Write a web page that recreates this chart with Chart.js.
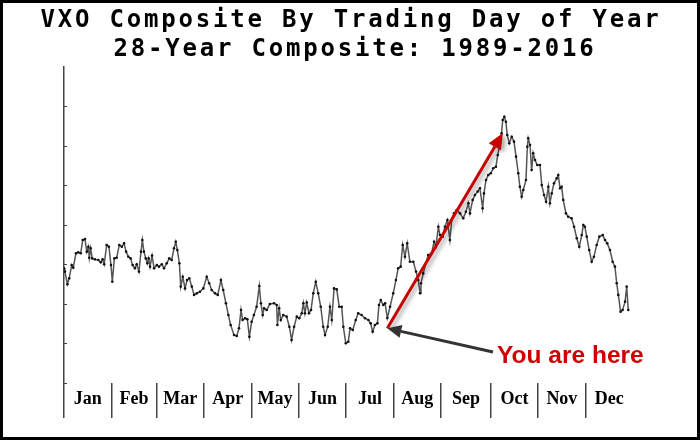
<!DOCTYPE html>
<html><head><meta charset="utf-8">
<script src="https://cdn.jsdelivr.net/npm/chart.js@4.4.1/dist/chart.umd.min.js"></script>
<style>html,body{margin:0;padding:0;background:#fff}#wrap{width:700px;height:440px}</style>
</head><body><div id="wrap"><canvas id="c" width="700" height="440"></canvas></div>
<script>
const titleLines = ["VXO Composite By Trading Day of Year", "28-Year Composite: 1989-2016"];
const monthNames = ["Jan","Feb","Mar","Apr","May","Jun","Jul","Aug","Sep","Oct","Nov","Dec"];
const monthStarts = [0,21,41,62,83,104,125,146,167,189,210,231];
const yearEnd = 252;
const yTicks = [12,14,16,18,20,22,24,26];

const days = [
0.0,0.4,1.5,2.3,3.4,4.1,5.3,6.3,7.4,8.3,9.3,10.1,10.8,11.2,11.8,12.5,13.7,15.2,16.3,17.1,
17.8,18.9,19.9,20.8,21.4,22.3,23.3,24.5,25.6,26.6,27.5,28.5,29.5,30.4,31.4,32.2,33.2,34.1,34.7,35.4,
36.2,36.9,37.5,38.1,39.0,39.9,41.1,42.1,43.3,44.3,45.5,46.6,47.7,48.7,49.5,50.2,51.1,51.7,52.6,53.6,
54.5,55.5,
56.6,57.6,58.8,60.2,61.7,63.2,64.3,65.4,66.9,68.1,69.5,70.5,71.7,72.8,73.8,75.3,76.5,77.5,78.4,79.1,
80.2,81.2,82.1,83.1,84.1,85.3,86.5,87.2,88.0,88.6,89.8,91.2,93.0,94.2,94.5,95.3,96.0,97.1,98.6,99.8,
100.8,101.9,103.1,104.2,105.3,106.0,106.7,107.5,108.5,109.4,110.4,111.5,112.6,113.7,114.8,115.6,116.8,117.8,118.6,119.6,
120.8,121.9,123.0,123.7,124.8,125.9,126.7,
127.9,129.2,130.3,131.8,133.3,134.8,135.8,136.7,137.7,138.8,139.5,140.3,141.4,142.2,143.2,144.4,145.8,147.0,148.0,149.1,
150.0,151.0,152.0,153.2,154.7,155.9,156.9,157.7,158.1,159.1,161.3,162.8,163.9,164.7,165.8,166.5,167.7,168.7,169.8,170.9,
171.7,172.7,173.9,175.4,176.8,178.0,179.1,179.8,181.0,182.0,183.2,184.2,185.4,186.0,186.9,187.9,189.0,190.1,191.3,192.1,
193.1,193.8,194.3,195.0,195.7,196.3,197.2,198.3,199.3,200.2,201.2,201.9,202.7,203.4,204.6,205.2,205.6,206.4,207.1,207.8,
208.6,209.6,210.8,211.6,212.6,213.5,214.5,215.2,216.0,217.0,218.2,218.9,219.7,220.4,221.1,222.3,223.3,224.8,225.9,227.1,
228.2,229.3,230.0,230.7,231.5,232.6,233.7,234.7,235.9,237.1,238.6,239.6,240.6,241.8,243.0,244.0,244.8,245.5,246.5,247.4,
248.5,249.2,249.9
];
const vxo = [
17.81,17.64,17.00,17.30,17.97,17.84,18.57,18.62,18.57,19.24,19.29,18.65,18.90,18.34,18.82,18.31,18.26,18.23,18.11,18.26,
18.01,18.99,18.90,17.97,17.13,18.31,18.34,18.99,18.90,19.07,18.65,18.39,18.31,17.97,17.81,18.01,17.64,18.65,19.24,18.65,
18.31,18.06,18.31,17.89,18.45,17.81,17.97,17.89,18.01,17.81,18.06,18.31,18.23,18.82,19.15,18.73,18.06,16.88,17.38,16.79,
17.21,17.30,
16.88,16.46,16.54,16.62,16.79,17.38,17.05,16.71,16.54,16.46,17.21,16.71,16.04,15.44,14.94,14.43,14.38,14.77,15.70,15.19,
15.28,15.23,14.34,15.10,15.44,15.86,16.91,16.04,15.44,15.78,15.70,16.00,16.04,15.95,14.94,15.78,15.19,15.44,15.36,14.85,
14.18,14.85,15.36,15.28,15.53,16.04,15.53,16.07,15.53,15.70,16.54,17.13,16.54,15.86,14.85,14.43,14.85,15.86,15.19,16.79,
16.74,15.86,15.86,14.85,14.01,14.09,14.77,
14.68,15.19,15.53,15.44,15.28,15.19,15.02,14.60,14.94,15.02,15.95,16.20,15.95,16.04,15.29,15.86,16.54,17.21,17.81,17.89,
18.99,18.39,19.07,18.14,18.14,17.64,17.21,16.54,17.05,17.55,18.48,18.57,19.15,18.90,19.91,19.49,19.41,19.91,20.25,19.24,
20.25,20.59,20.76,20.59,20.34,20.67,21.10,20.59,21.27,21.52,21.69,21.86,20.85,21.60,22.28,22.53,22.62,22.87,22.95,23.54,
24.14,24.64,25.32,25.48,25.23,24.56,24.14,24.47,24.22,23.46,22.62,21.94,21.43,21.77,22.28,23.96,24.39,24.05,22.78,23.63,
23.29,23.04,23.04,22.02,21.52,21.18,21.94,21.10,21.60,22.11,22.36,22.53,21.86,21.94,21.27,20.59,20.42,20.34,19.91,19.33,
18.90,19.49,20.00,19.91,19.41,18.73,18.14,18.39,18.99,19.41,19.49,19.24,19.07,18.73,18.14,17.89,17.05,16.46,15.61,15.70,
16.12,16.88,15.70
];

const annotationText = "You are here";
const hereDay = 143.2, hereValue = 14.77;
const peakArrowDay = 194.4, peakArrowValue = 24.66;
const pointerTailDay = 190.0, pointerTailValue = 13.57;
const textDay = 191.8, textValue = 13.01;

const points = days.map((d, i) => ({x: d, y: vxo[i]}));
const monthMids = monthStarts.map((s, i) => (s + (i < 11 ? monthStarts[i + 1] : yearEnd)) / 2);
const xTickList = [];
monthStarts.forEach((s, i) => { xTickList.push({value: s, label: ""}); xTickList.push({value: monthMids[i], label: monthNames[i]}); });

function drawArrow(ctx, x1, y1, x2, y2, color, width, headLen, headHalf) {
  const ang = Math.atan2(y2 - y1, x2 - x1);
  const bx = x2 - headLen * Math.cos(ang), by = y2 - headLen * Math.sin(ang);
  ctx.strokeStyle = color; ctx.fillStyle = color; ctx.lineWidth = width; ctx.lineCap = "butt";
  ctx.beginPath(); ctx.moveTo(x1, y1); ctx.lineTo(bx, by); ctx.stroke();
  ctx.beginPath();
  ctx.moveTo(x2, y2);
  ctx.lineTo(bx + headHalf * Math.sin(ang), by - headHalf * Math.cos(ang));
  ctx.lineTo(bx - headHalf * Math.sin(ang), by + headHalf * Math.cos(ang));
  ctx.closePath(); ctx.fill();
}

const decor = {
  id: "decor",
  beforeDraw(chart) {
    const ctx = chart.ctx;
    ctx.save(); ctx.fillStyle = "#fff"; ctx.fillRect(0, 0, chart.width, chart.height); ctx.restore();
  },
  afterDatasetsDraw(chart) {
    const ctx = chart.ctx, xs = chart.scales.x, ys = chart.scales.y;
    const hx = xs.getPixelForValue(hereDay), hy = ys.getPixelForValue(hereValue);
    ctx.save();
    ctx.shadowColor = "rgba(0,0,0,0.35)"; ctx.shadowBlur = 4; ctx.shadowOffsetX = 3; ctx.shadowOffsetY = 2;
    drawArrow(ctx, hx, hy, xs.getPixelForValue(peakArrowDay), ys.getPixelForValue(peakArrowValue), "#c80000", 3, 16, 7);
    ctx.restore();
    ctx.save();
    drawArrow(ctx, xs.getPixelForValue(pointerTailDay), ys.getPixelForValue(pointerTailValue), hx, hy, "#333333", 3, 14, 6.5);
    ctx.font = 'bold 24.5px "Liberation Sans", Arial, sans-serif';
    ctx.fillStyle = "#d00000"; ctx.textAlign = "left"; ctx.textBaseline = "alphabetic";
    ctx.fillText(annotationText, xs.getPixelForValue(textDay), ys.getPixelForValue(textValue));
    ctx.restore();
  },
  afterDraw(chart) {
    const ctx = chart.ctx;
    ctx.save();
    ctx.font = 'bold 24px "DejaVu Sans Mono", monospace';
    ctx.fillStyle = "#000"; ctx.textAlign = "center"; ctx.textBaseline = "alphabetic";
    if ("letterSpacing" in ctx) ctx.letterSpacing = "2.8px";
    ctx.fillText(titleLines[0], 351, 27);
    ctx.fillText(titleLines[1], 355, 56);
    if ("letterSpacing" in ctx) ctx.letterSpacing = "0px";
    ctx.strokeStyle = "#000"; ctx.lineWidth = 3;
    ctx.strokeRect(1.5, 1.5, chart.width - 3, chart.height - 3);
    ctx.restore();
  }
};

new Chart(document.getElementById("c"), {
  type: "line",
  data: { datasets: [{
    data: points,
    borderColor: "#555",
    borderWidth: 1.5,
    pointRadius: 1.3,
    pointBackgroundColor: "#111",
    pointBorderWidth: 0,
    tension: 0
  }]},
  options: {
    responsive: false,
    animation: false,
    events: [],
    layout: { padding: { left: 64, right: 67, top: 67, bottom: 27 } },
    plugins: { legend: { display: false }, title: { display: false }, tooltip: { enabled: false } },
    scales: {
      x: {
        type: "linear", min: 0, max: yearEnd,
        border: { display: false },
        afterBuildTicks: s => { s.ticks = xTickList.map(t => ({ value: t.value })); },
        afterFit: s => { s.height = 30; },
        grid: {
          drawOnChartArea: false, drawTicks: true, tickLength: 35, lineWidth: 1.5,
          color: c => (c.tick && monthStarts.includes(c.tick.value)) ? "#444" : "rgba(0,0,0,0)"
        },
        ticks: {
          autoSkip: false, maxRotation: 0, minRotation: 0, padding: -29, color: "#000",
          font: { family: '"Liberation Serif", "Times New Roman", serif', size: 18, weight: "bold" },
          callback: (v, i) => xTickList[i] ? xTickList[i].label : ""
        }
      },
      y: {
        min: 12, max: 28,
        afterBuildTicks: s => { s.ticks = yTicks.map(v => ({ value: v })); },
        afterFit: s => { s.width = 0; },
        border: { display: true, color: "#444", width: 1.5 },
        grid: { drawOnChartArea: false, drawTicks: true, tickLength: -3, color: "#444", lineWidth: 1 },
        ticks: { display: false }
      }
    }
  },
  plugins: [decor]
});
</script>
</body></html>
